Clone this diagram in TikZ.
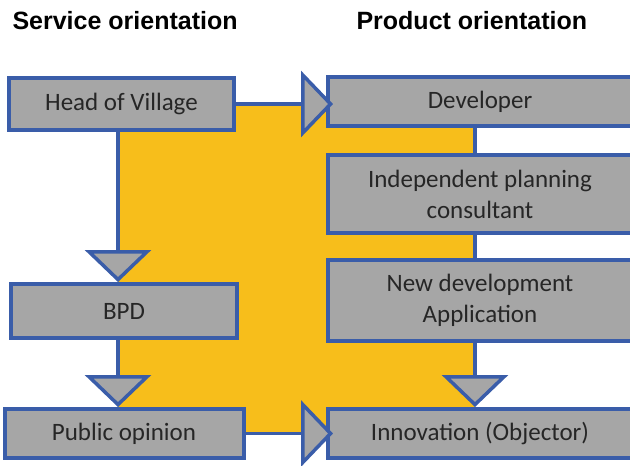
\documentclass[tikz,border=0pt]{standalone}
\usepackage{fontspec}
\setmainfont{Carlito}
\newfontfamily\titlefont{Liberation Sans}
\usetikzlibrary{arrows.meta,positioning,backgrounds}
\definecolor{vblue}{HTML}{3A5DA9}
\definecolor{vgray}{HTML}{A6A6A6}
\definecolor{vorange}{HTML}{F7BE1B}
\definecolor{vtext}{HTML}{262626}
\tikzset{
  box/.style={draw=vblue, line width=4pt, fill=vgray, text=vtext, inner sep=0pt,
    align=center, font=\fontsize{25}{31}\selectfont},
  leftbox/.style={box, minimum height=49pt},
  rightbox/.style={box, minimum width=304pt, minimum height=49pt},
  flow/.style={draw=vblue, line width=3.5pt,
    -{Triangle[length=32pt, width=66pt, fill=vgray]}},
  heading/.style={font=\titlefont\bfseries\fontsize{25}{30}\selectfont, anchor=base west}
}

\begin{document}
\begin{tikzpicture}[x=1pt, y=-1pt]
  \useasboundingbox (0,0) rectangle (630,466);

  \node[heading] (service) at (9,29) {Service orientation};
  \node[heading] (product) at (353,29) {Product orientation};

  % service side
  \node[leftbox, minimum width=225pt, minimum height=52pt] (head) at (121.5,104) {Head of Village};
  \node[leftbox, minimum width=226pt, minimum height=54pt] (bpd) [below=150pt of head, xshift=2.5pt] {BPD};
  \node[leftbox, minimum width=239pt] (public) [below=67pt of bpd] {Public opinion};

  % product side
  \node[rightbox] (dev) at (480,101.5) {Developer};
  \node[rightbox, minimum height=78pt] (planner) [below=25pt of dev] {Independent planning\\consultant};
  \node[rightbox, minimum height=81pt] (newdev) [below=23pt of planner] {New development\\Application};
  \node[rightbox] (innov) [below=64pt of newdev] {Innovation (Objector)};

  \begin{scope}[on background layer]
    \fill[vorange] (118,103) rectangle (475,434);
    \draw[flow] ([xshift=-5pt]dev.south) -- ([xshift=-5pt]dev.south |- innov.north);
  \end{scope}

  \draw[flow] (head.east) -- ([xshift=7pt]head.east -| dev.west);
  \draw[flow] ([xshift=-3.5pt]head.south) -- ([xshift=-3.5pt]head.south |- bpd.north);
  \draw[flow] ([xshift=-6pt]bpd.south) -- ([xshift=-6pt]bpd.south |- public.north);
  \draw[flow] (public.east) -- ([xshift=7pt]public.east -| innov.west);
\end{tikzpicture}
\end{document}
